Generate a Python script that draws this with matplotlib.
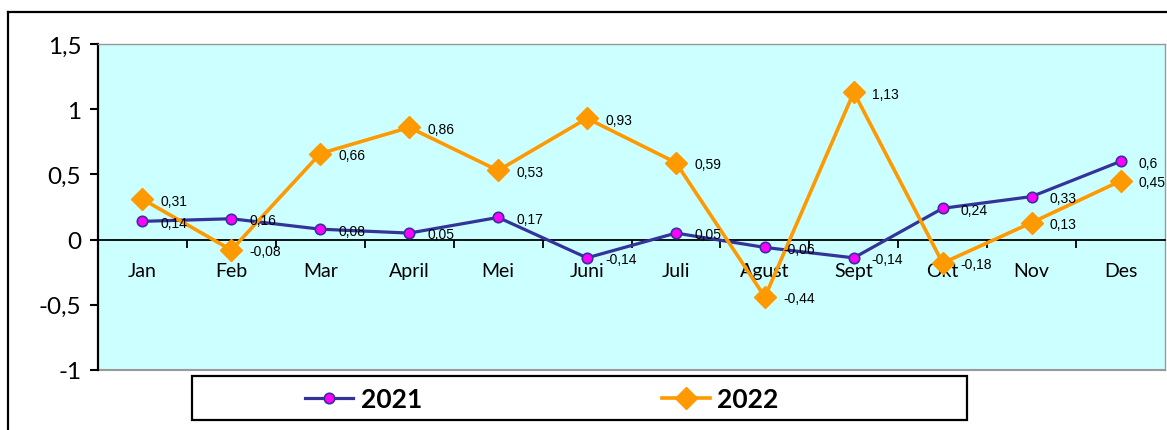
import matplotlib
matplotlib.use("Agg")
import matplotlib.pyplot as plt
from matplotlib.lines import Line2D
from matplotlib.patches import Rectangle
from matplotlib.ticker import FuncFormatter, FixedLocator

months = ["Jan", "Feb", "Mar", "April", "Mei", "Juni", "Juli", "Agust", "Sept", "Okt", "Nov", "Des"]
y2021 = [0.14, 0.16, 0.08, 0.05, 0.17, -0.14, 0.05, -0.06, -0.14, 0.24, 0.33, 0.6]
y2022 = [0.31, -0.08, 0.66, 0.86, 0.53, 0.93, 0.59, -0.44, 1.13, -0.18, 0.13, 0.45]


def fmt(v):
    return f"{v:g}".replace(".", ",")


W, H = 1167, 431
fig = plt.figure(figsize=(W / 100, H / 100), dpi=100)
ax = fig.add_axes([98 / W, (H - 371) / H, (1165 - 98) / W, (371 - 45) / H])
ax.set_facecolor("#CCFFFF")

x = list(range(len(months)))
ax.plot(x, y2021, color="#333399", lw=2.3, marker="o", ms=7.5,
        mfc="#FF00FF", mec="#333399", mew=1.2, zorder=3, label="2021")
ax.plot(x, y2022, color="#FF9900", lw=2.6, marker="D", ms=11,
        mfc="#FF9900", mec="#FF9900", zorder=4, label="2022")

for xi, v in zip(x, y2021):
    ax.annotate(fmt(v), (xi, v), xytext=(13, -1), textcoords="offset points",
                ha="left", va="center", fontsize=10, family="Liberation Sans", zorder=5)
for xi, v in zip(x, y2022):
    ax.annotate(fmt(v), (xi, v), xytext=(13, -1), textcoords="offset points",
                ha="left", va="center", fontsize=10, family="Liberation Sans", zorder=5)

ax.set_xlim(-0.5, len(months) - 0.5)
ax.set_ylim(-1, 1.5)
ax.set_yticks([-1, -0.5, 0, 0.5, 1, 1.5])
ax.yaxis.set_major_formatter(FuncFormatter(lambda v, p: fmt(v)))
ax.tick_params(axis="y", direction="out", length=6, width=1.5, pad=6,
               labelsize=17.5)
for lab in ax.get_yticklabels():
    lab.set_family("Lato")

# category axis sits on the zero line
ax.spines["bottom"].set_position(("data", 0))
ax.spines["bottom"].set_color("black")
ax.spines["bottom"].set_linewidth(1.3)
ax.set_xticks(x)
ax.set_xticklabels(months, family="Lato", fontsize=14)
ax.tick_params(axis="x", which="major", length=0, pad=16)
ax.xaxis.set_minor_locator(FixedLocator([i + 0.5 for i in range(len(months) - 1)]))
ax.tick_params(axis="x", which="minor", direction="out", length=6, width=1.3)

ax.spines["left"].set_linewidth(1.6)
for s in ["top", "right"]:
    ax.spines[s].set_color("#999999")
    ax.spines[s].set_linewidth(1)
ax.axhline(-1, color="#999999", lw=1.5, clip_on=False, zorder=2)

# outer chart frame
fig.add_artist(Line2D([8 / W, 8 / W], [0, (H - 13) / H], color="black", lw=1.6,
                      transform=fig.transFigure))
fig.add_artist(Line2D([8 / W, 1], [(H - 13) / H, (H - 13) / H], color="black", lw=1.6,
                      transform=fig.transFigure))

# legend box
fig.add_artist(Rectangle((192 / W, (H - 421) / H), (967 - 192) / W, 44 / H,
                         transform=fig.transFigure, fill=False, ec="black", lw=1.6))
leg = fig.legend(loc="center", bbox_to_anchor=(542 / W, (H - 400) / H), ncol=2,
                 frameon=False, handlelength=1.8, handletextpad=0.3,
                 columnspacing=9.1,
                 prop={"family": "Lato", "weight": "bold", "size": 19})

fig.savefig("out.png", dpi=100)
